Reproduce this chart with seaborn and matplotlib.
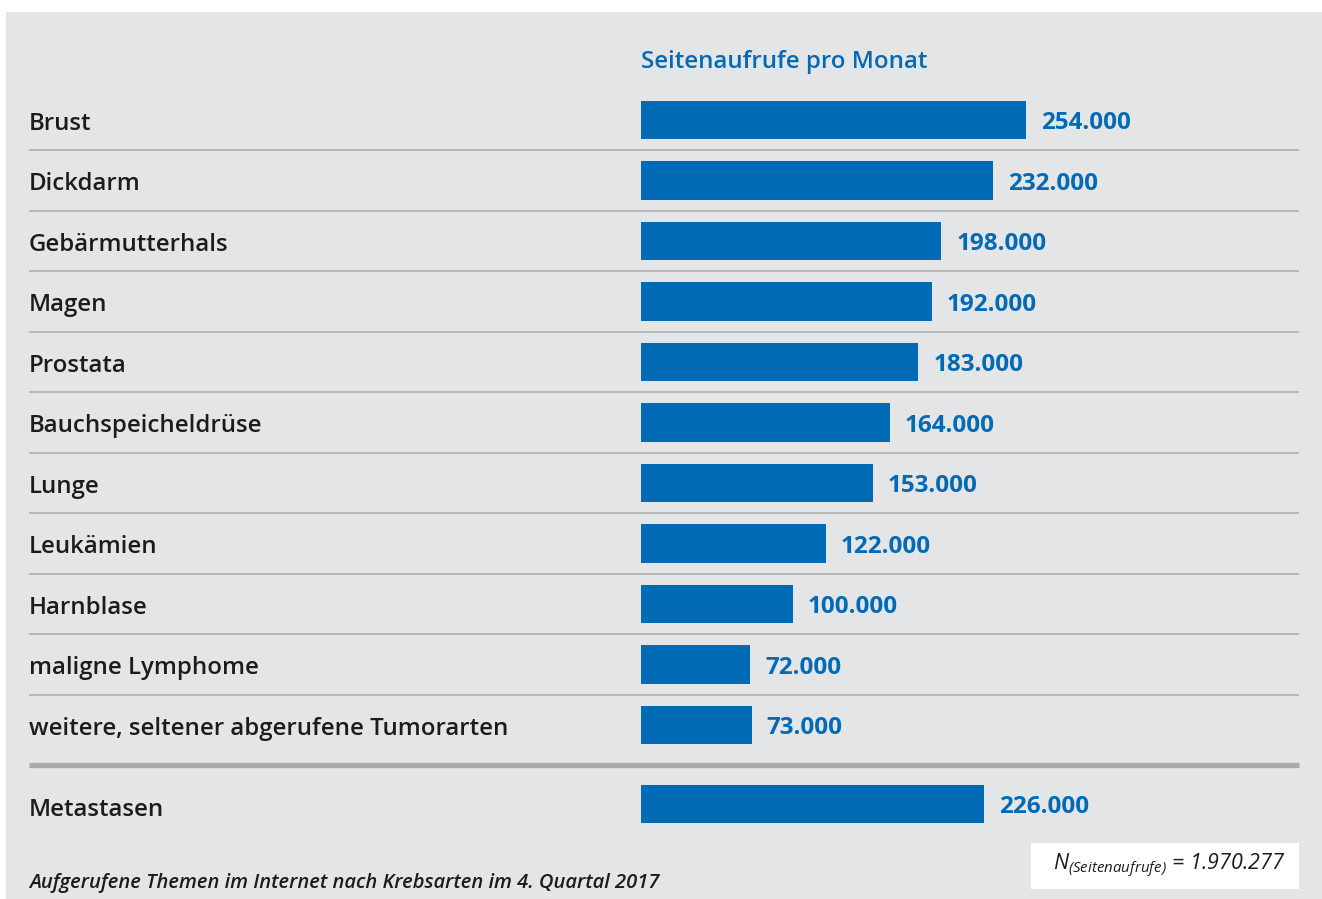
import matplotlib
matplotlib.use("Agg")
import matplotlib.pyplot as plt
from matplotlib.patches import Rectangle
from matplotlib.lines import Line2D
import pandas as pd
import seaborn as sns

# data
categories = ["Brust", "Dickdarm", "Gebärmutterhals", "Magen", "Prostata",
              "Bauchspeicheldrüse", "Lunge", "Leukämien", "Harnblase",
              "maligne Lymphome", "weitere, seltener abgerufene Tumorarten"]
values = [254000, 232000, 198000, 192000, 183000, 164000, 153000, 122000,
          100000, 72000, 73000]
extra_categories = ["Metastasen"]
extra_values = [226000]
title = "Seitenaufrufe pro Monat"
caption = "Aufgerufene Themen im Internet nach Krebsarten im 4. Quartal 2017"
total_text = r"$N_{(Seitenaufrufe)}$ = 1.970.277"

BLUE = "#006ab4"
PANEL = "#e4e5e7"
TEXT = "#1c1c1c"
LINE = "#b4b5b7"

sns.set_theme(style="white")
plt.rcParams["font.family"] = ["Open Sans", "DejaVu Sans"]
plt.rcParams["mathtext.fontset"] = "custom"
plt.rcParams["mathtext.it"] = "Open Sans:italic"
plt.rcParams["mathtext.rm"] = "Open Sans:italic"

W, H = 1322, 899
fig = plt.figure(figsize=(W / 100, H / 100), dpi=100, facecolor="white")


def fx(px):
    return px / W


def fy(py):
    return 1 - py / H


# gray panel
fig.add_artist(Rectangle((fx(6), 0), 1 - fx(6), fy(12), transform=fig.transFigure,
                         facecolor=PANEL, edgecolor="none", zorder=0))

# pixel scale: bar origin at x=641, 254000 ends at x=1026
scale = (1026 - 641) / 254000
ax_left_px, ax_right_px = 29, 1299
xmin = -(641 - ax_left_px) / scale
xmax = (ax_right_px - 641) / scale

row = 60.5
top_px = 120 - row / 2
bot_px = 725 + row / 2
ax1 = fig.add_axes([fx(ax_left_px), fy(bot_px), fx(ax_right_px - ax_left_px),
                    (bot_px - top_px) / H])
m_top = 804 - row / 2
m_bot = 804 + row / 2
ax2 = fig.add_axes([fx(ax_left_px), fy(m_bot), fx(ax_right_px - ax_left_px),
                    (m_bot - m_top) / H])

df1 = pd.DataFrame({"cat": categories, "val": values})
df2 = pd.DataFrame({"cat": extra_categories, "val": extra_values})

for ax, df, lab_dy in [(ax1, df1, 0.06), (ax2, df2, 0.1)]:
    sns.barplot(data=df, x="val", y="cat", orient="h", color=BLUE, width=0.63,
                saturation=1, linewidth=0, ax=ax)
    ax.set_xlim(xmin, xmax)
    ax.set_ylim(len(df) - 0.5, -0.5)
    ax.set_facecolor("none")
    ax.axis("off")
    for i, (c, v) in enumerate(zip(df["cat"], df["val"])):
        ax.text(xmin, i + lab_dy, c, ha="left", va="center", fontsize=17.3,
                fontweight="semibold", color=TEXT)
        label = f"{v:,}".replace(",", ".")
        ax.text(v + 15 / scale, i + 0.05, label, ha="left", va="center",
                fontsize=17.5, fontweight="bold", color=BLUE)

# thin separators between rows
for i in range(len(categories) - 1):
    ax1.axhline(i + 0.5, color=LINE, linewidth=1.3, zorder=0)

# thick separator before Metastasen
fig.add_artist(Line2D([fx(29), fx(1299)], [fy(765), fy(765)], transform=fig.transFigure,
                      color="#a9aaac", linewidth=3.8, solid_capstyle="butt"))

fig.text(fx(641), fy(62), title, ha="left", va="center", fontsize=17.3,
         fontweight="semibold", color=BLUE)

fig.text(fx(29), fy(883), caption, ha="left", va="center", fontsize=14.5,
         fontstyle="italic", fontweight="semibold", color=TEXT)

fig.add_artist(Rectangle((fx(1031), fy(889)), fx(1299 - 1031), (889 - 843) / H,
                         transform=fig.transFigure, facecolor="white",
                         edgecolor="none", zorder=1))
fig.text(fx(1285), fy(866), total_text, ha="right", va="center", fontsize=15.5,
         fontstyle="italic", color=TEXT, zorder=2)

fig.savefig("out.png", dpi=100, facecolor="white")
